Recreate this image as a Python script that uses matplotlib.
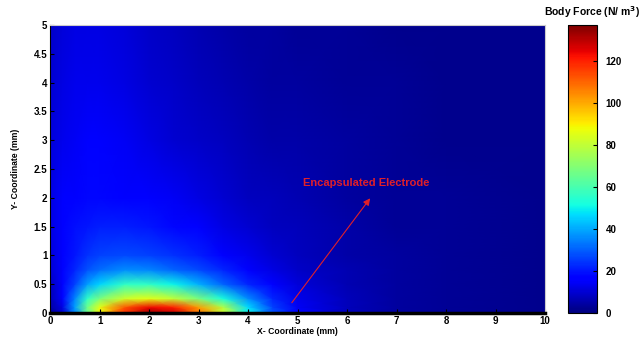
import numpy as np
import matplotlib
matplotlib.use("Agg")
import matplotlib.pyplot as plt
from matplotlib.ticker import FormatStrFormatter

plt.rcParams['font.family'] = ['Liberation Sans', 'DejaVu Sans']
plt.rcParams['font.weight'] = 'bold'

x_mm = [0, 0.25, 0.5, 0.75, 1, 1.5, 2, 2.5, 3, 3.5, 4, 4.5, 5, 6, 7, 8, 10]
y_mm = [0, 0.1, 0.25, 0.5, 0.75, 1, 1.5, 2, 3, 4, 5]

# body force (N/m^3), one row per y value
force = [
    [3, 10, 35, 65, 88, 118, 134, 128, 108, 82, 50, 28, 15, 7, 4, 3, 2],
    [4, 12, 38, 66, 86, 112, 124, 120, 102, 78, 47, 26, 14, 7, 4, 3, 2],
    [6, 15, 35, 56, 68, 82, 86, 80, 68, 52, 36, 22, 13, 7, 4, 3, 2],
    [8, 15, 26, 38, 46, 56, 56, 50, 41, 31, 22, 15, 11, 6, 4, 3, 2],
    [10, 16, 22, 28, 32, 36, 35, 31, 27, 22, 16, 12, 9, 6, 4, 3, 2],
    [11, 16, 20, 24, 26, 27, 26, 24, 21, 17, 13, 10, 8, 5, 4, 3, 2],
    [12, 16, 19, 20, 21, 21, 20, 18, 15, 12, 10, 8, 7, 5, 3, 3, 2],
    [12, 15, 17, 18, 18, 17, 16, 14, 12, 10, 8, 7, 6, 4, 3, 3, 2],
    [11, 13, 14, 15, 15, 14, 12, 10, 9, 8, 6, 5, 5, 4, 3, 2, 2],
    [10, 12, 13, 13, 13, 12, 10, 9, 7, 6, 5, 4, 4, 3, 3, 2, 2],
    [9, 11, 12, 12, 12, 11, 9, 8, 6, 5, 4, 4, 3, 3, 2, 2, 2],
]

cbar_ticks = [0, 20, 40, 60, 80, 100, 120]

fig = plt.figure(figsize=(6.42, 3.38), dpi=100)
ax = fig.add_axes([0.078, 0.074, 0.771, 0.852])
cax = fig.add_axes([0.885, 0.074, 0.045, 0.852])

X, Y = np.meshgrid(x_mm, y_mm)
mesh = ax.pcolormesh(X, Y, np.array(force), cmap='jet', vmin=0, vmax=137,
                     shading='gouraud')

ax.set_xlim(0, 10)
ax.set_ylim(0, 5)
ax.set_xticks(np.arange(0, 11, 1))
ax.set_yticks(np.arange(0, 5.01, 0.5))
ax.yaxis.set_major_formatter(FormatStrFormatter('%g'))
ax.tick_params(direction='in', length=3, labelsize=7, pad=2)
ax.spines['bottom'].set_linewidth(2.5)
ax.spines['top'].set_color('#cccccc')
ax.spines['right'].set_color('#cccccc')
ax.set_xlabel('X- Coordinate (mm)', fontsize=6.2, fontweight='bold', labelpad=1)
ax.set_ylabel('Y- Coordinate (mm)', fontsize=6.2, fontweight='bold', labelpad=10)

ax.annotate('', xy=(6.5, 2.03), xytext=(4.85, 0.14),
            arrowprops=dict(arrowstyle='-|>', color='#e0202a', lw=0.8,
                            mutation_scale=10))
ax.text(6.38, 2.26, 'Encapsulated Electrode', color='#e0202a', fontsize=8,
        fontweight='bold', ha='center', va='center')

cb = fig.colorbar(mesh, cax=cax, ticks=cbar_ticks)
cb.ax.tick_params(labelsize=7, direction='in', length=3, pad=6)
cb.outline.set_linewidth(0.8)
fig.text(0.998, 0.965, 'Body Force (N/ m$^3$)', fontsize=7.5, fontweight='bold',
         ha='right', va='center')

fig.savefig('out.png', dpi=100)
